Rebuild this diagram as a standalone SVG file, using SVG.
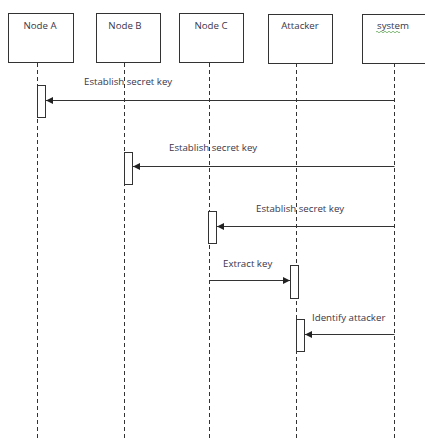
<svg xmlns="http://www.w3.org/2000/svg" width="425" height="439" viewBox="0 0 425 439">
<defs>
<style>
.box{fill:#fff;stroke:#333;stroke-width:1}
.act{fill:#fff;stroke:#333;stroke-width:1}
.life{stroke:#333;stroke-width:1;stroke-dasharray:4 3;fill:none}
.msg{stroke:#333;stroke-width:1;fill:none;marker-end:url(#ah)}
.t{font-family:"Open Sans","Liberation Sans",sans-serif;font-size:9.7px;fill:#3a3548}
.tc{text-anchor:middle}
</style>
<marker id="ah" viewBox="0 0 8 8" refX="8" refY="4" markerWidth="7" markerHeight="7" markerUnits="userSpaceOnUse" orient="auto">
<path d="M0,0 L8,4 L0,8 z" fill="#222"/>
</marker>
</defs>
<rect width="425" height="439" fill="#fff"/>
<g id="lifelines">
<line class="life" x1="37.5" y1="63" x2="37.5" y2="439"/>
<line class="life" x1="124.5" y1="63" x2="124.5" y2="439"/>
<line class="life" x1="209.5" y1="63" x2="209.5" y2="439"/>
<line class="life" x1="296.5" y1="63" x2="296.5" y2="439"/>
<line class="life" x1="394.5" y1="63" x2="394.5" y2="439"/>
</g>
<g id="node-a"><rect class="box" x="8.5" y="13.5" width="65" height="49"/><text class="t tc" x="40" y="29">Node A</text></g>
<g id="node-b"><rect class="box" x="96.5" y="13.5" width="64" height="49"/><text class="t tc" x="125" y="29">Node B</text></g>
<g id="node-c"><rect class="box" x="179.5" y="13.5" width="64" height="49"/><text class="t tc" x="211" y="29">Node C</text></g>
<g id="attacker"><rect class="box" x="268.5" y="14.5" width="64" height="49"/><text class="t tc" x="300" y="29">Attacker</text></g>
<g id="system"><rect class="box" x="362.5" y="14.5" width="64" height="49"/><text class="t tc" x="393" y="29">system</text>
<path d="M376,32 q1,-1.5 2,0 t2,0 t2,0 t2,0 t2,0 t2,0 t2,0 t2,0 t2,0 t2,0 t2,0 t2,0" fill="none" stroke="#4a9a3a" stroke-width="0.7"/></g>
<g id="activations">
<rect class="act" x="37.5" y="85.5" width="8" height="32"/>
<rect class="act" x="124.5" y="152.5" width="8" height="32"/>
<rect class="act" x="208.5" y="211.5" width="8" height="32"/>
<rect class="act" x="290.5" y="265.5" width="8" height="33"/>
<rect class="act" x="296.5" y="319.5" width="8" height="32"/>
</g>
<g id="connectors">
<line class="msg" x1="394.5" y1="100.5" x2="46" y2="100.5"/>
<line class="msg" x1="394.5" y1="166.5" x2="133" y2="166.5"/>
<line class="msg" x1="394.5" y1="226.5" x2="217" y2="226.5"/>
<line class="msg" x1="209.5" y1="280.5" x2="290" y2="280.5"/>
<line class="msg" x1="394.5" y1="334.5" x2="305" y2="334.5"/>
</g>
<g id="labels">
<text class="t" x="84" y="85">Establish secret key</text>
<text class="t" x="169" y="151">Establish secret key</text>
<text class="t" x="256" y="212">Establish secret key</text>
<text class="t" x="223" y="267">Extract key</text>
<text class="t" x="312" y="321">Identify attacker</text>
</g>
</svg>
